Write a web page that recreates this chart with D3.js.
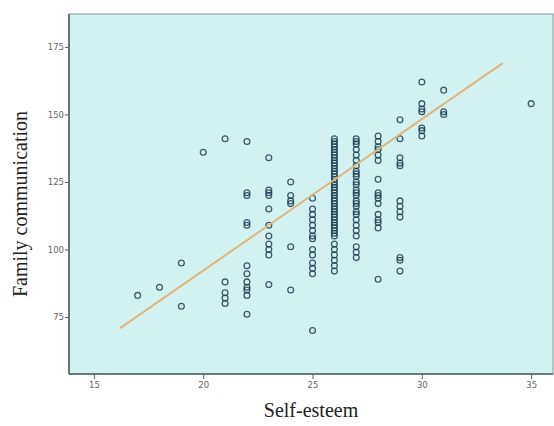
<!DOCTYPE html>
<html>
<head>
<meta charset="utf-8">
<script src="https://cdn.jsdelivr.net/npm/d3@7"></script>
<style>
  body { margin: 0; background: #fff; }
  .tick text { font-family: "DejaVu Sans", sans-serif; font-size: 8.5px; fill: #666; }
  .axistitle { font-family: "Liberation Serif", "Times New Roman", serif; font-size: 20px; fill: #222; }
</style>
</head>
<body>
<div id="chart"></div>
<script>
// Self-esteem scores (x), and the family communication scores found at each one.
const esteemLevels = [17, 18, 19, 20, 21, 22, 23, 24, 25, 26, 27, 28, 29, 30, 31, 35];
const commScores = [
	[83],
	[86],
	[95, 79],
	[136],
	[141, 88, 84, 82, 80],
	[140, 121, 120, 110, 109, 94, 91, 88, 86, 85, 83, 76],
	[134, 122, 121, 120, 115, 109, 105, 102, 100, 98, 87],
	[125, 120, 118, 117, 101, 85],
	[119, 115, 113, 111, 109, 107, 105, 104, 100, 98, 95, 93, 91, 70],
	[141, 140, 139, 138, 137, 136, 135, 134, 133, 132, 131, 130, 129, 128, 127, 126, 125, 124,
	 123, 122, 121, 120, 119, 118, 117, 116, 115, 114, 113, 112, 111, 110, 109, 108, 107, 106,
	 105, 102, 100, 98, 96, 94, 92],
	[141, 140, 139, 137, 135, 133, 131, 129, 128, 127, 125, 124, 122, 121, 120, 118, 117, 116,
	 114, 113, 111, 109, 107, 105, 101, 99, 97],
	[142, 140, 138, 137, 135, 133, 126, 121, 120, 119, 117, 113, 111, 110, 108, 89],
	[148, 141, 134, 132, 131, 118, 116, 114, 112, 97, 96, 92],
	[162, 154, 152, 151, 145, 144, 142],
	[159, 151, 150],
	[154]
];

// Fit line end points (x, y) as drawn in the picture.
const fitX = [16.2, 33.7];
const fitY = [70.9, 169];

const xTicks = [15, 20, 25, 30, 35];
const yTicks = [75, 100, 125, 150, 175];


// Dimensions of chart.
const W = 554, H = 426;
let margin = { top: 14, right: 1, bottom: 52, left: 69 },
	width = W - margin.left - margin.right,
	height = H - margin.top - margin.bottom;

let svg = d3.select("#chart").append("svg")
	.attr("width", W)
	.attr("height", H);

let g = svg.append("g")
	.attr("transform", "translate(" + margin.left + "," + margin.top + ")");


// Scales
let x = d3.scaleLinear()
	.domain([13.86, 36.0])
	.range([0, width]);

let y = d3.scaleLinear()
	.domain([53.9, 187.2])
	.range([height, 0]);


// Plot background
g.append("rect")
	.attr("width", width)
	.attr("height", height)
	.attr("fill", "#d2f2f2");


// Points
let points = [];
esteemLevels.forEach((lv, i) => {
	commScores[i].forEach(v => points.push({ x: lv, y: v }));
});

g.append("g")
	.selectAll("circle")
	.data(points)
	.join("circle")
	.attr("cx", d => x(d.x))
	.attr("cy", d => y(d.y))
	.attr("r", 2.9)
	.attr("fill", "none")
	.attr("stroke", "#1f4352")
	.attr("stroke-opacity", 0.85)
	.attr("stroke-width", 1.3);


// Fit line
g.append("line")
	.attr("x1", x(fitX[0])).attr("y1", y(fitY[0]))
	.attr("x2", x(fitX[1])).attr("y2", y(fitY[1]))
	.attr("stroke", "#e2b37a")
	.attr("stroke-width", 2);


// Frame
g.append("rect")
	.attr("width", width)
	.attr("height", height)
	.attr("fill", "none")
	.attr("stroke", "#7f9494")
	.attr("stroke-width", 1);
g.append("line")
	.attr("x1", 0).attr("x2", 0).attr("y1", 0).attr("y2", height)
	.attr("stroke", "#4f6464").attr("stroke-width", 1.6);
g.append("line")
	.attr("x1", 0).attr("x2", width).attr("y1", height).attr("y2", height)
	.attr("stroke", "#4f6464").attr("stroke-width", 1.6);


// Axes
let xAxis = d3.axisBottom(x)
	.tickValues(xTicks)
	.tickSize(5)
	.tickPadding(3);
let yAxis = d3.axisLeft(y)
	.tickValues(yTicks)
	.tickSize(4)
	.tickPadding(1);

g.append("g")
	.attr("transform", "translate(0," + height + ")")
	.call(xAxis)
	.call(a => a.select(".domain").remove())
	.call(a => a.selectAll(".tick line").attr("stroke", "#4f6464"));
g.append("g")
	.call(yAxis)
	.call(a => a.select(".domain").remove())
	.call(a => a.selectAll(".tick line").attr("stroke", "#4f6464"));


// Axis titles
svg.append("text")
	.attr("class", "axistitle")
	.attr("x", margin.left + width / 2)
	.attr("y", 417)
	.attr("text-anchor", "middle")
	.text("Self-esteem");
svg.append("text")
	.attr("class", "axistitle")
	.attr("transform", "translate(27," + (margin.top + height / 2 + 10) + ") rotate(-90)")
	.attr("text-anchor", "middle")
	.text("Family communication");
</script>
</body>
</html>
